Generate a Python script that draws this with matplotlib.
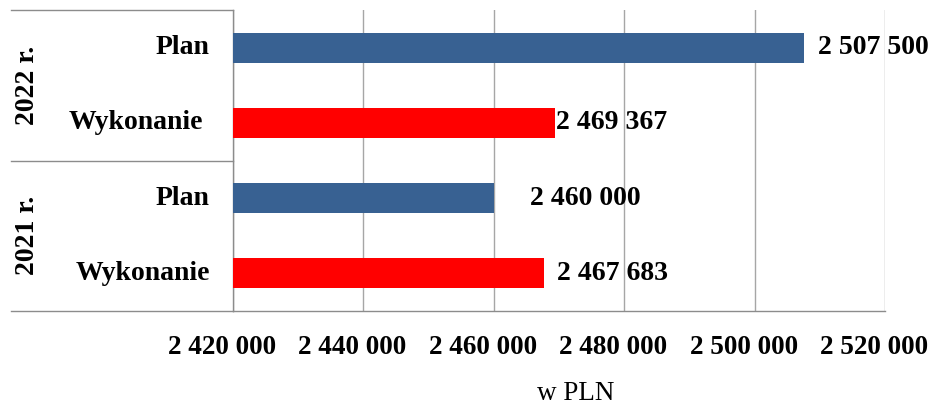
import matplotlib
matplotlib.use("Agg")
import matplotlib.pyplot as plt
from matplotlib import transforms
from matplotlib.ticker import FixedLocator, FuncFormatter

# Data (PLN)
years = ["2022 r.", "2021 r."]
categories = ["Plan", "Wykonanie", "Plan", "Wykonanie"]
values = [2507500, 2469367, 2460000, 2467683]
bar_colors = ["#386192", "#FF0000", "#386192", "#FF0000"]
x_ticks = [2420000, 2440000, 2460000, 2480000, 2500000, 2520000]
x_label = "w PLN"

# Label placement tweaks (pixels)
value_label_gap = [15, 1, 36, 13]
category_label_gap = [24, 30, 24, 23]
tick_label_shift = -11

serif = ["Liberation Serif", "DejaVu Serif"]
plt.rcParams["font.family"] = serif

W, H, DPI = 936, 409, 100
fig = plt.figure(figsize=(W / DPI, H / DPI), dpi=DPI)
ax = fig.add_axes([233 / W, (H - 311) / H, (885 - 233) / W, (311 - 10) / H])

pos = list(range(len(values)))
xmin = x_ticks[0]
ax.barh(pos, [v - xmin for v in values], left=xmin, height=0.4,
        color=bar_colors, zorder=3)

ax.set_xlim(x_ticks[0], x_ticks[-1])
ax.set_ylim(len(values) - 0.5, -0.5)

ax.xaxis.set_major_locator(FixedLocator(x_ticks))
ax.xaxis.set_major_formatter(
    FuncFormatter(lambda v, p: f"{v:,.0f}".replace(",", " ")))
ax.tick_params(axis="x", length=0, pad=17, labelsize=19.5)
shift = transforms.ScaledTranslation(tick_label_shift / DPI, 0,
                                     fig.dpi_scale_trans)
for t in ax.get_xticklabels():
    t.set_fontweight("bold")
    t.set_transform(t.get_transform() + shift)
ax.set_yticks([])

ax.grid(axis="x", color="#A6A6A6", linewidth=1, zorder=0)
for s in ["top", "right"]:
    ax.spines[s].set_visible(False)
for s in ["left", "bottom"]:
    ax.spines[s].set_color("#8C8C8C")
    ax.spines[s].set_linewidth(1)

fig.text(576 / W, 1 - 394 / H, x_label, ha="center", va="center",
         fontsize=19.5)

# Value labels at bar ends
for i, v in enumerate(values):
    ax.annotate(f"{v:,.0f}".replace(",", " "), xy=(v, i),
                xytext=(value_label_gap[i] * 72 / DPI, 0),
                textcoords="offset points", ha="left", va="center",
                fontsize=20, fontweight="bold", zorder=4)

# Category labels to the left of the axis
ytrans = transforms.blended_transform_factory(ax.transAxes, ax.transData)
for i, c in enumerate(categories):
    tr = ytrans + transforms.ScaledTranslation(-category_label_gap[i] / DPI, 0,
                                               fig.dpi_scale_trans)
    ax.text(0, i, c, transform=tr, ha="right", va="center",
            fontsize=20, fontweight="bold")

# Group box lines and year labels
left_edge = (11 - 233) / (885 - 233)
n_groups = len(years)
for k in range(n_groups + 1):
    yk = 1 - k / n_groups
    ax.plot([left_edge, 0], [yk, yk], transform=ax.transAxes,
            color="#8C8C8C", linewidth=1, clip_on=False)
for k, yr in enumerate(years):
    ax.text((28 - 233) / (885 - 233), 1 - (k + 0.5) / n_groups, yr,
            transform=ax.transAxes, rotation=90, ha="center", va="center",
            fontsize=20, fontweight="bold")

fig.savefig("out.png", dpi=DPI)
